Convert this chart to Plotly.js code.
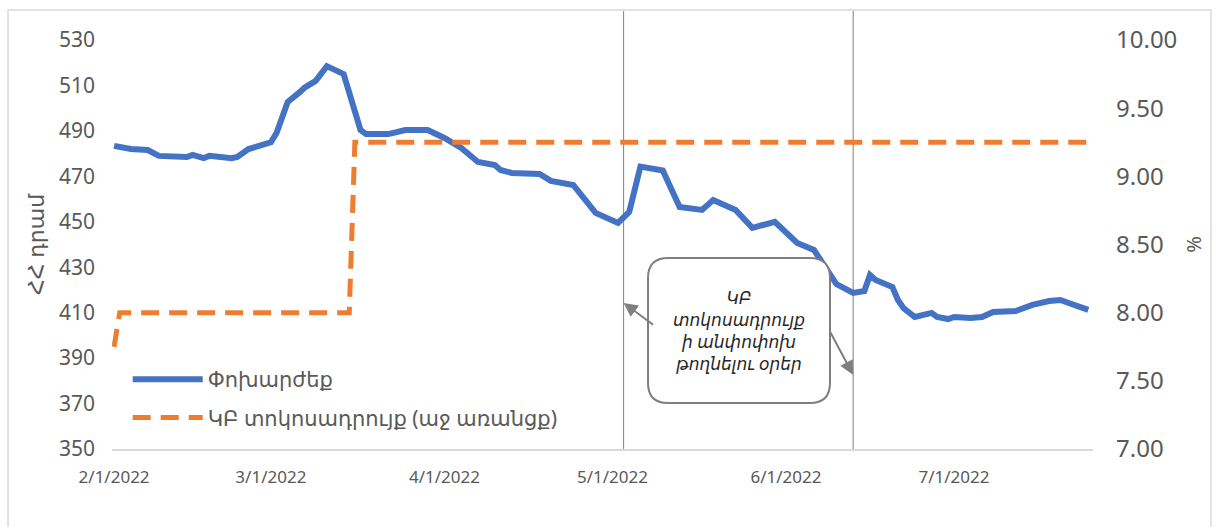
<!DOCTYPE html>
<html>
<head>
<meta charset="utf-8">
<script src="https://cdn.plot.ly/plotly-3.0.1.min.js"></script>
<style>html,body{margin:0;padding:0;background:#fff;}#chart{width:1216px;height:527px;}</style>
</head>
<body>
<div id="chart"></div>
<script>
// Exchange rate (AMD per USD), left axis
const fxDates = ['2022-02-01','2022-02-04','2022-02-07','2022-02-09','2022-02-14','2022-02-15','2022-02-17','2022-02-18','2022-02-22','2022-02-23','2022-02-25',
 '2022-03-01','2022-03-02','2022-03-04','2022-03-06','2022-03-07','2022-03-09','2022-03-11','2022-03-14','2022-03-17','2022-03-18','2022-03-22','2022-03-25','2022-03-29',
 '2022-04-01','2022-04-04','2022-04-07','2022-04-10','2022-04-11','2022-04-13','2022-04-18','2022-04-20','2022-04-24','2022-04-28',
 '2022-05-02','2022-05-04','2022-05-06','2022-05-10','2022-05-13','2022-05-17','2022-05-19','2022-05-23','2022-05-26','2022-05-30',
 '2022-06-03','2022-06-06','2022-06-10','2022-06-13','2022-06-15','2022-06-16','2022-06-17','2022-06-20','2022-06-21','2022-06-22','2022-06-24','2022-06-27','2022-06-28','2022-06-30',
 '2022-07-01','2022-07-04','2022-07-06','2022-07-08','2022-07-12','2022-07-15','2022-07-18','2022-07-20','2022-07-22','2022-07-25'];
const fxValues = [483.4,482.0,481.6,479.0,478.5,479.4,478.0,479.0,478.0,478.5,482.0,
 485.0,489.0,502.7,506.7,509.0,512.0,518.5,515.0,490.4,488.6,488.6,490.4,490.4,
 486.9,482.5,476.3,475.0,472.8,471.5,471.0,468.0,466.2,453.9,
 449.5,454.3,474.3,472.6,456.5,455.2,459.6,455.2,447.3,450.0,
 440.7,437.6,422.6,418.7,419.5,426.6,424.4,421.3,415.6,412.0,408.1,409.9,408.1,407.2,
 408.1,407.7,408.1,410.3,410.7,413.4,415.1,415.6,413.8,411.2];

// CBA policy rate (%), right axis
const rateDates = ['2022-02-01','2022-02-02','2022-03-15','2022-03-16','2022-07-25'];
const rateValues = [7.75, 8.00, 8.00, 9.25, 9.25];

// Days the policy rate was left unchanged
const unchangedDays = ['2022-05-03','2022-06-13'];

const seriesNames = ['Փոխարժեք', 'ԿԲ տոկոսադրույք (աջ առանցք)'];
const leftTitle = 'ՀՀ դրամ';
const rightTitle = '%';
const noteText = 'ԿԲ<br>տոկոսադրույք<br>ի անփոփոխ<br>թողնելու օրեր';
const monthTicks = ['2022-02-01','2022-03-01','2022-04-01','2022-05-01','2022-06-01','2022-07-01'];
const monthLabels = ['2/1/2022','3/1/2022','4/1/2022','5/1/2022','6/1/2022','7/1/2022'];

const FONT = 'Noto Sans, DejaVu Sans, Roboto, sans-serif';
const GREY = '#595959';

const traces = [
  {x: fxDates, y: fxValues, name: seriesNames[0], type: 'scatter', mode: 'lines',
   line: {color: '#4472C4', width: 6}, yaxis: 'y', legendgroup: 'a', hoverinfo: 'x+y'},
  {x: rateDates, y: rateValues, name: seriesNames[1], type: 'scatter', mode: 'lines',
   line: {color: '#ED7D31', width: 5, dash: '18px,10px'}, yaxis: 'y2', legendgroup: 'b'}
];

// rounded box in paper coords
const bx0 = 0.5464, bx1 = 0.7319, by0 = 0.1125, by1 = 0.467, rx = 0.0204, ry = 0.0489;
const boxPath = `M ${bx0+rx},${by1} L ${bx1-rx},${by1} Q ${bx1},${by1} ${bx1},${by1-ry} L ${bx1},${by0+ry} Q ${bx1},${by0} ${bx1-rx},${by0} L ${bx0+rx},${by0} Q ${bx0},${by0} ${bx0},${by0+ry} L ${bx0},${by1-ry} Q ${bx0},${by1} ${bx0+rx},${by1} Z`;

const shapes = unchangedDays.map(d => ({type: 'line', xref: 'x', yref: 'paper', x0: d, x1: d, y0: 0, y1: 1.071,
  line: {color: '#7f7f7f', width: 1}, layer: 'below'}));
shapes.push({type: 'path', xref: 'paper', yref: 'paper', path: boxPath, fillcolor: '#ffffff', line: {color: '#7f7f7f', width: 2}, layer: 'above'});
shapes.push({type: 'rect', xref: 'paper', yref: 'paper', x0: -0.106, x1: 1.1203, y0: -0.3, y1: 1.0733,
  line: {color: '#d9d9d9', width: 1.5}, fillcolor: 'rgba(0,0,0,0)', layer: 'below'});

const annotations = [
  {xref: 'paper', yref: 'paper', x: (bx0+bx1)/2, y: (by0+by1)/2, xanchor: 'center', yanchor: 'middle',
   text: '<i>' + noteText + '</i>', showarrow: false, font: {family: FONT, size: 17, color: '#262626'}, align: 'center'},
  {xref: 'x', yref: 'y', x: unchangedDays[0], y: 414.3, ax: 31, ay: 23, text: '', showarrow: true,
   arrowhead: 2, arrowsize: 1.4, arrowwidth: 2, arrowcolor: '#7f7f7f', standoff: 0},
  {xref: 'x', yref: 'y', x: unchangedDays[1], y: 382.6, ax: -24, ay: -45, text: '', showarrow: true,
   arrowhead: 2, arrowsize: 1.4, arrowwidth: 2, arrowcolor: '#7f7f7f', standoff: 0}
];

const layout = {
  width: 1216, height: 527,
  margin: {l: 112, r: 123, t: 40, b: 78},
  paper_bgcolor: '#ffffff', plot_bgcolor: '#ffffff',
  font: {family: FONT, color: GREY},
  showlegend: true,
  legend: {x: 0.016, y: 0.22, xanchor: 'left', yanchor: 'top', bgcolor: 'rgba(0,0,0,0)',
    itemwidth: 70, font: {family: FONT, size: 21, color: GREY}, traceorder: 'grouped', tracegroupgap: 8},
  xaxis: {type: 'date', range: ['2022-01-31 15:00', '2022-07-25 20:00'],
    tickvals: monthTicks, ticktext: monthLabels, ticks: '', showgrid: false, zeroline: false,
    showline: true, linecolor: '#d9d9d9', linewidth: 1.5, ticklabelstandoff: 12,
    tickfont: {family: FONT, size: 17, color: GREY}},
  yaxis: {range: [350, 530], dtick: 20, tick0: 350, showgrid: false, zeroline: false, ticks: '',
    ticklabelstandoff: 16, tickfont: {family: FONT, size: 21, color: GREY},
    title: {text: leftTitle, font: {family: FONT, size: 22, color: GREY}, standoff: 8}},
  yaxis2: {range: [7, 10], dtick: 0.5, tick0: 7, tickformat: '.2f', overlaying: 'y', side: 'right',
    showgrid: false, zeroline: false, ticks: '', ticklabelstandoff: 22,
    tickfont: {family: FONT, size: 24, color: GREY},
    title: {text: rightTitle, font: {family: FONT, size: 20, color: GREY}, standoff: 10}},
  shapes: shapes,
  annotations: annotations
};

Plotly.newPlot('chart', traces, layout, {displayModeBar: false, responsive: false});
</script>
</body>
</html>
